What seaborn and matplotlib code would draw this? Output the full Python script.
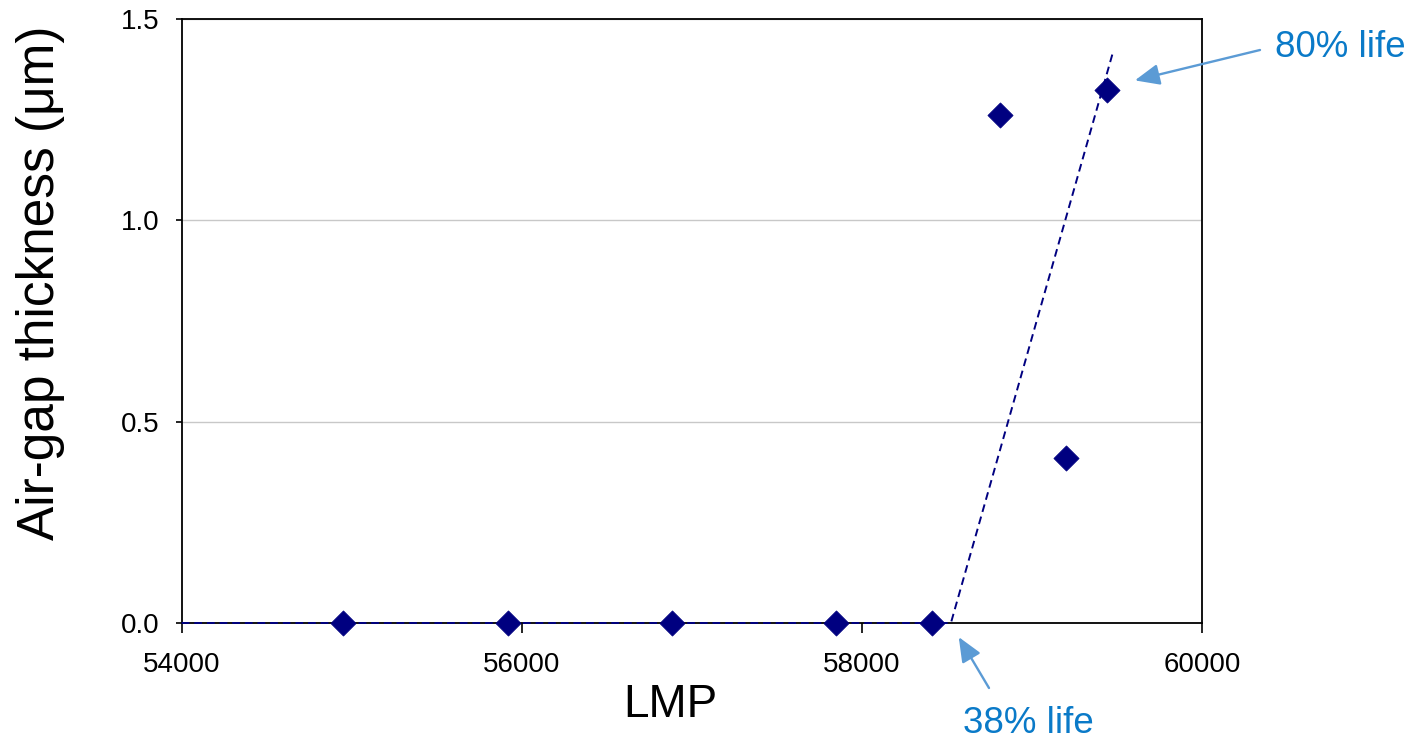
import matplotlib
matplotlib.use("Agg")
import matplotlib.pyplot as plt
import seaborn as sns
import pandas as pd

# measured points
lmp = [54950, 55920, 56885, 57850, 58412, 58812, 59200, 59441]
air_gap = [0.0, 0.0, 0.0, 0.0, 0.0, 1.261, 0.41, 1.324]

# trend line (piecewise fit)
trend_lmp = [54000, 58524, 59477]
trend_gap = [0.0, 0.0, 1.418]

x_ticks = [54000, 56000, 58000, 60000]
y_ticks = [0.0, 0.5, 1.0, 1.5]

navy = "#000080"
note_text = "#0A7AC8"
note_arrow = "#5B9BD5"

sns.set_style("white")
plt.rcParams["font.family"] = ["Liberation Sans", "DejaVu Sans"]
plt.rcParams["text.color"] = "black"
plt.rcParams["axes.labelcolor"] = "black"

df = pd.DataFrame({"LMP": lmp, "gap": air_gap})
df_trend = pd.DataFrame({"LMP": trend_lmp, "gap": trend_gap})

fig = plt.figure(figsize=(14.19, 7.39), dpi=100)
ax = fig.add_axes([0.128, 0.157, 0.719, 0.817])

# trend line drawn over the bottom spine, like the original
sns.lineplot(data=df_trend, x="LMP", y="gap", ax=ax, color=navy,
             linestyle=(0, (4, 2.5)), linewidth=1.4, clip_on=False, zorder=4)
sns.scatterplot(data=df, x="LMP", y="gap", ax=ax, marker="D", s=165,
                color=navy, edgecolor=navy, linewidth=0.5, clip_on=False, zorder=5)

ax.set_xlim(54000, 60000)
ax.set_ylim(0, 1.5)
ax.set_xticks(x_ticks)
ax.set_yticks(y_ticks)
ax.set_yticklabels([f"{v:.1f}" for v in y_ticks])
ax.set_xticklabels([str(v) for v in x_ticks])

ax.yaxis.grid(True, color="#c8c8c8", linewidth=1.0)
ax.set_axisbelow(True)
for sp in ax.spines.values():
    sp.set_visible(True)
    sp.set_color("black")
    sp.set_linewidth(1.3)

ax.tick_params(axis="x", direction="out", length=7, width=1.2, pad=14,
               labelsize=20, bottom=True, colors="black")
ax.tick_params(axis="y", direction="out", length=4, width=1.2, pad=12,
               labelsize=20, left=True, colors="black")

ax.set_xlabel("LMP", fontsize=33, color="black")
ax.set_ylabel("Air-gap thickness (\u03bcm)", fontsize=37, color="black")
ax.xaxis.set_label_coords(0.479, -0.1)
ax.yaxis.set_label_coords(-0.114, 0.563)

# annotations
arrow = dict(arrowstyle="-|>,head_length=0.75,head_width=0.32",
             color=note_arrow, lw=1.7, mutation_scale=20, shrinkA=0, shrinkB=0)
ax.annotate("", xy=(59606, 1.348), xytext=(1260, 739 - 50),
            textcoords="figure pixels", arrowprops=arrow, annotation_clip=False)
ax.annotate("", xy=(58570, -0.035), xytext=(989, 739 - 688),
            textcoords="figure pixels", arrowprops=arrow, annotation_clip=False)
fig.text(1275 / 1419, (739 - 57) / 739, "80% life", fontsize=26.5,
         color=note_text, ha="left", va="baseline")
fig.text(963 / 1419, (739 - 733) / 739, "38% life", fontsize=26.5,
         color=note_text, ha="left", va="baseline")

fig.savefig("out.png", dpi=100)
